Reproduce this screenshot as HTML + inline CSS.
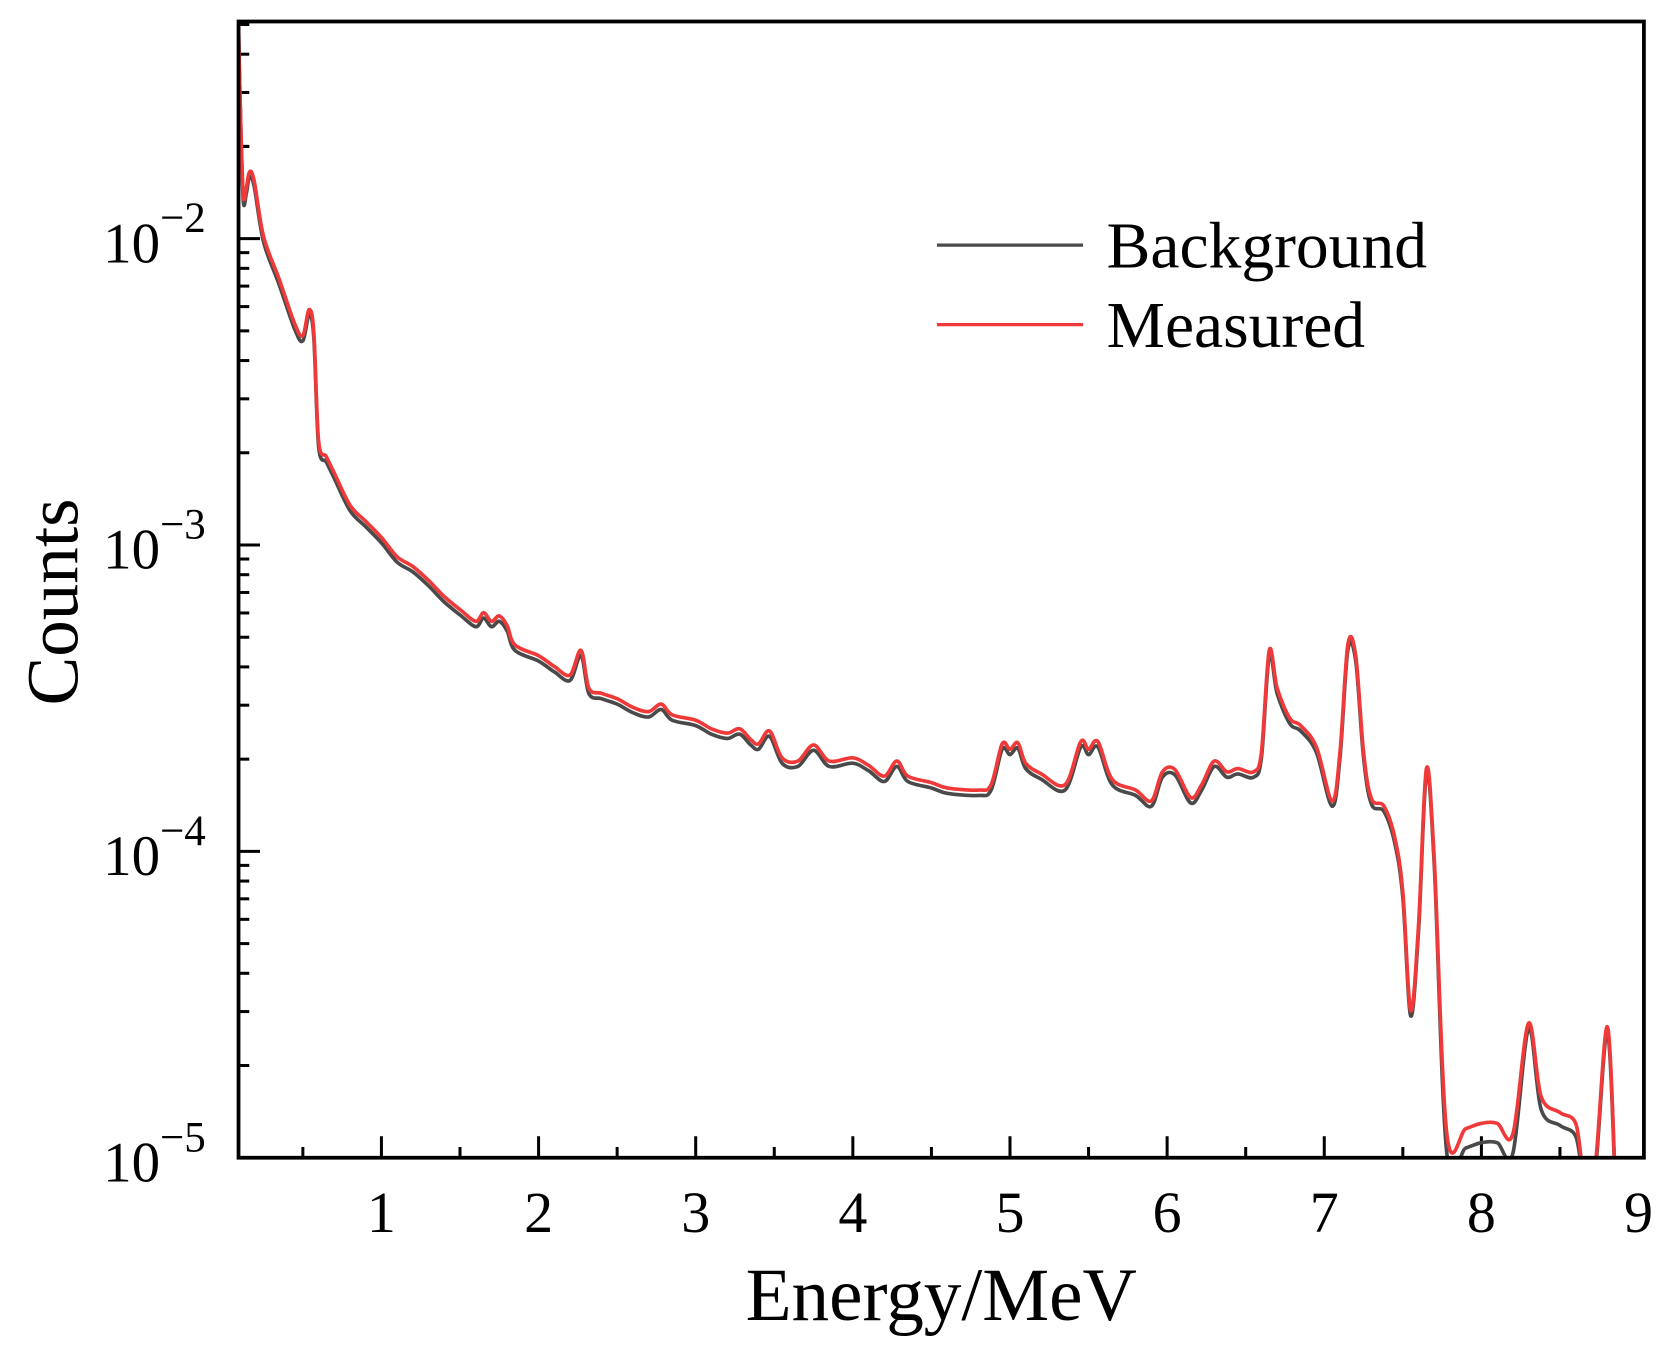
<!DOCTYPE html>
<html><head><meta charset="utf-8"><style>
html,body{margin:0;padding:0;background:#fff}
svg{display:block}
text{font-family:"Liberation Serif",serif;fill:#000}
</style></head><body>
<svg id="s" width="1674" height="1348" viewBox="0 0 1558 1254" preserveAspectRatio="none" xmlns="http://www.w3.org/2000/svg">
<defs><clipPath id="c"><rect x="222" y="20" width="1308" height="1057"/></clipPath></defs>
<g id="ticks" stroke="#000" stroke-width="2.8"></g>
<g clip-path="url(#c)">
<path id="bg" fill="none" stroke="#4a4a4a" stroke-width="3.4"/>
<path id="ms" fill="none" stroke="#f03a3a" stroke-width="3.4"/>
</g>
<rect x="222" y="20" width="1308" height="1057" fill="none" stroke="#000" stroke-width="3.5"/>
<g id="labels" font-size="54"></g>
<line x1="872" y1="228" x2="1008" y2="228" stroke="#4a4a4a" stroke-width="3"/>
<line x1="872" y1="302" x2="1008" y2="302" stroke="#f03a3a" stroke-width="3"/>
<text x="1030" y="249" font-size="61">Background</text>
<text x="1030" y="323" font-size="61">Measured</text>
<text x="876" y="1228" font-size="70" text-anchor="middle">Energy/MeV</text>
<text transform="translate(72,560) rotate(-90)" font-size="68" text-anchor="middle">Counts</text>
</svg>
<script>
const X=e=>208.75+146.25*e;
const NS="http://www.w3.org/2000/svg";
const tk=document.getElementById('ticks'),lb=document.getElementById('labels');
function ln(x1,y1,x2,y2){const l=document.createElementNS(NS,'line');l.setAttribute('x1',x1);l.setAttribute('y1',y1);l.setAttribute('x2',x2);l.setAttribute('y2',y2);tk.appendChild(l);}
for(let i=1;i<=17;i++){const e=i*0.5;const x=X(e);if(x>1528)continue;ln(x,1077,x,1077-(i%2==0?20:10));}
for(let i=1;i<=9;i++){const t=document.createElementNS(NS,'text');t.setAttribute('x',X(i));t.setAttribute('y',1146);t.setAttribute('text-anchor','middle');t.textContent=i;lb.appendChild(t);}
const dec=[{p:-2,y:222},{p:-3,y:507},{p:-4,y:792},{p:-5,y:1077}];
for(let d=-5;d<=-2;d++){const y0=1077-(d+5)*285;ln(222,y0,242,y0);for(let m=2;m<=9;m++){const y=y0-285*Math.log10(m);if(y>22)ln(222,y,232,y);}}
ln(222,1077-3*285-285*Math.log10(2),232,1077-3*285-285*Math.log10(2));
dec.forEach(o=>{const t=document.createElementNS(NS,'text');t.setAttribute('x',96);t.setAttribute('y',o.y+22);t.setAttribute('font-size','53');t.innerHTML='10<tspan dy="-28" font-size="40">\u2212'+(-o.p)+'</tspan>';lb.appendChild(t);});
const P=[[0.09,20],[0.1,90],[0.12,180],[0.14,175],[0.16,160],[0.19,168],[0.25,220],[0.35,260],[0.45,302],[0.5,312],[0.54,288],[0.57,310],[0.6,410],[0.65,425],[0.7,440],[0.8,470],[0.9,485],[1.0,500],[1.1,518],[1.2,527],[1.3,540],[1.4,555],[1.5,567],[1.6,578],[1.65,570],[1.7,578],[1.75,573],[1.8,582],[1.85,600],[2.0,610],[2.1,620],[2.2,628],[2.27,605],[2.32,640],[2.4,645],[2.5,650],[2.6,658],[2.7,662],[2.78,655],[2.85,665],[3.0,670],[3.1,678],[3.2,682],[3.28,678],[3.35,688],[3.4,692],[3.47,680],[3.55,705],[3.65,708],[3.75,693],[3.85,708],[4.0,705],[4.1,712],[4.2,722],[4.28,708],[4.35,722],[4.5,728],[4.6,733],[4.8,735],[4.88,730],[4.95,692],[5.0,697],[5.05,691],[5.1,710],[5.2,720],[5.35,730],[5.45,690],[5.5,697],[5.56,690],[5.65,725],[5.8,735],[5.9,745],[5.97,718],[6.05,716],[6.15,742],[6.22,730],[6.3,708],[6.38,718],[6.45,715],[6.55,718],[6.6,700],[6.65,605],[6.7,640],[6.78,668],[6.85,675],[6.95,695],[7.05,745],[7.1,700],[7.15,600],[7.2,610],[7.25,700],[7.3,743],[7.38,750],[7.45,780],[7.5,830],[7.55,940],[7.6,860],[7.65,715],[7.7,800],[7.78,1055],[7.9,1050],[8.0,1045],[8.1,1045],[8.2,1055],[8.3,952],[8.38,1020],[8.5,1035],[8.6,1045],[8.65,1090],[8.72,1090],[8.8,955],[8.85,1090]];
function path(pts){let d='M'+pts[0][0]+','+pts[0][1];for(let i=0;i<pts.length-1;i++){const p0=pts[i-1]||pts[i],p1=pts[i],p2=pts[i+1],p3=pts[i+2]||p2;const c1=[p1[0]+(p2[0]-p0[0])/6,p1[1]+(p2[1]-p0[1])/6],c2=[p2[0]-(p3[0]-p1[0])/6,p2[1]-(p3[1]-p1[1])/6];d+=`C${c1[0].toFixed(1)},${c1[1].toFixed(1)} ${c2[0].toFixed(1)},${c2[1].toFixed(1)} ${p2[0].toFixed(1)},${p2[1].toFixed(1)}`;}return d;}
const m=P.map(p=>[X(p[0]),p[1]]);
const b=P.map(p=>{let off=5;if(p[0]>=7.75&&p[0]<=8.25)off=18;if(p[0]>8.35&&p[0]<8.65)off=12;return [X(p[0]),p[0]<0.12?p[1]:p[1]+off];});
document.getElementById('ms').setAttribute('d',path(m));
document.getElementById('bg').setAttribute('d',path(b));
</script>
</body></html>
